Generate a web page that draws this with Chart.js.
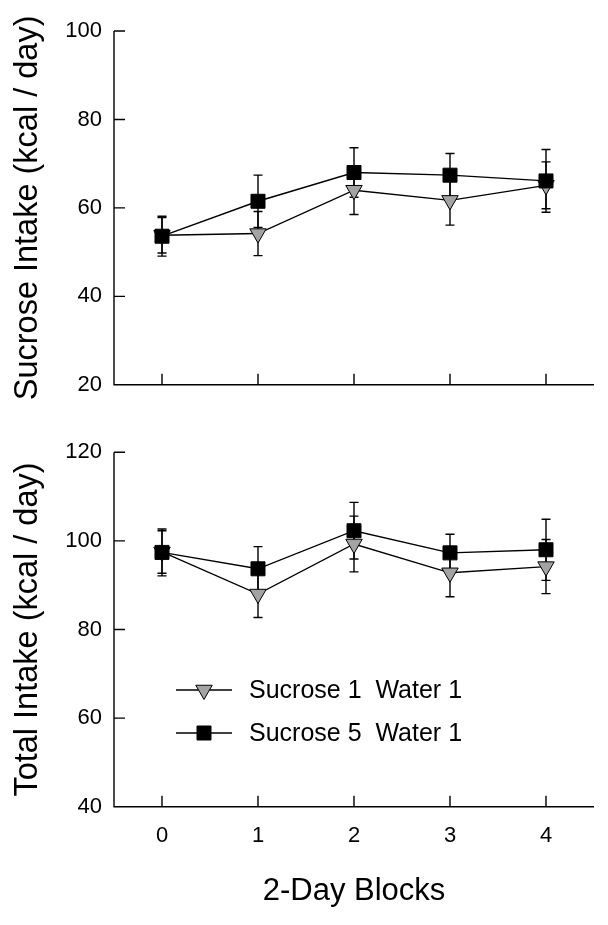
<!DOCTYPE html>
<html>
<head>
<meta charset="utf-8">
<script src="https://cdn.jsdelivr.net/npm/chart.js@4.4.0/dist/chart.umd.min.js"></script>
<style>
  html, body { margin: 0; padding: 0; background: #fff; }
  #wrap { position: relative; width: 608px; height: 925px; }
  canvas { position: absolute; left: 0; }
  #chartTop { top: 0; }
  #chartBottom { top: 410px; }
</style>
</head>
<body>
<div id="wrap">
  <canvas id="chartTop" width="608" height="410"></canvas>
  <canvas id="chartBottom" width="608" height="515"></canvas>
</div>
<script>
// ================== DATA ==================
const blocks = ["0", "1", "2", "3", "4"];
const seriesNames = ["Sucrose 1  Water 1", "Sucrose 5  Water 1"];

// sucrose intake (kcal/day), mean and SEM
const s1SucroseMean = [53.8, 54.2, 64.0, 61.7, 65.1];
const s1SucroseSem  = [4.0, 5.0, 5.5, 5.6, 5.3];
const s5SucroseMean = [53.6, 61.5, 68.0, 67.4, 66.1];
const s5SucroseSem  = [4.5, 5.9, 5.6, 4.9, 7.1];

// total intake (kcal/day), mean and SEM
const s1TotalMean = [97.5, 88.0, 99.3, 92.8, 94.2];
const s1TotalSem  = [4.8, 5.3, 6.3, 5.4, 6.1];
const s5TotalMean = [97.4, 93.7, 102.3, 97.3, 98.0];
const s5TotalSem  = [5.3, 5.0, 6.4, 4.2, 6.9];

const sucroseTicks = [20, 40, 60, 80, 100];
const totalTicks   = [40, 60, 80, 100, 120];

// ================== STYLE ==================
const FONT = "'Liberation Sans', Arial, Helvetica, sans-serif";
const INK = "#000";
const GREY = "#a3a3a3";
const LW = 1.4;

// ================== PLUGINS ==================
const errorBars = {
  id: "errorBars",
  beforeDatasetsDraw(chart) {
    const ctx = chart.ctx, y = chart.scales.y;
    ctx.save();
    ctx.strokeStyle = INK;
    ctx.lineWidth = LW;
    chart.data.datasets.forEach((ds, i) => {
      chart.getDatasetMeta(i).data.forEach((pt, j) => {
        const hi = y.getPixelForValue(ds.data[j] + ds.sem[j]);
        const lo = y.getPixelForValue(ds.data[j] - ds.sem[j]);
        ctx.beginPath();
        ctx.moveTo(pt.x, hi); ctx.lineTo(pt.x, lo);
        ctx.moveTo(pt.x - 4.5, hi); ctx.lineTo(pt.x + 4.5, hi);
        ctx.moveTo(pt.x - 4.5, lo); ctx.lineTo(pt.x + 4.5, lo);
        ctx.stroke();
      });
    });
    ctx.restore();
  }
};

// axis lines + inward tick marks
const axesFrame = {
  id: "axesFrame",
  afterDraw(chart) {
    const { ctx, chartArea: a, scales: { x, y } } = chart;
    ctx.save();
    ctx.strokeStyle = INK;
    ctx.lineWidth = LW;
    ctx.beginPath();
    ctx.moveTo(a.left, a.top); ctx.lineTo(a.left, a.bottom); ctx.lineTo(a.right, a.bottom);
    y.ticks.forEach((t, i) => {
      const py = y.getPixelForTick(i);
      ctx.moveTo(a.left, py); ctx.lineTo(a.left + 11, py);
    });
    x.ticks.forEach((t, i) => {
      const px = x.getPixelForTick(i);
      ctx.moveTo(px, a.bottom); ctx.lineTo(px, a.bottom - 11);
    });
    ctx.stroke();
    ctx.restore();
  }
};

function drawMarker(ctx, kind, cx, cy) {
  ctx.save();
  ctx.lineWidth = 1;
  ctx.strokeStyle = INK;
  ctx.beginPath();
  if (kind === "tri") {
    const r = 9.5;
    for (let k = 0; k < 3; k++) {
      const a = Math.PI + k * 2 * Math.PI / 3;
      const px = cx + Math.sin(a) * r, py = cy - Math.cos(a) * r;
      k ? ctx.lineTo(px, py) : ctx.moveTo(px, py);
    }
    ctx.closePath();
    ctx.fillStyle = GREY;
  } else {
    ctx.rect(cx - 7, cy - 7, 14, 14);
    ctx.fillStyle = INK;
  }
  ctx.fill();
  ctx.stroke();
  ctx.restore();
}

const insetLegend = {
  id: "insetLegend",
  afterDraw(chart) {
    const { ctx, chartArea: a } = chart;
    const rows = [["tri", seriesNames[0], 237.7], ["sq", seriesNames[1], 280.7]];
    ctx.save();
    rows.forEach(([kind, label, dy]) => {
      const y = a.top + dy;
      ctx.strokeStyle = INK;
      ctx.lineWidth = LW;
      ctx.beginPath();
      ctx.moveTo(a.left + 62, y); ctx.lineTo(a.left + 118, y);
      ctx.stroke();
      drawMarker(ctx, kind, a.left + 90, y);
      ctx.fillStyle = INK;
      ctx.font = `25px ${FONT}`;
      ctx.textBaseline = "middle";
      ctx.textAlign = "left";
      ctx.fillText(label, a.left + 135, y + 1);
    });
    ctx.restore();
  }
};

// ================== CHARTS ==================
function datasetsFor(m1, e1, m5, e5) {
  return [
    {
      label: seriesNames[0], data: m1, sem: e1, order: 2,
      borderColor: INK, borderWidth: LW,
      pointStyle: "triangle", rotation: 180, pointRadius: 9.5,
      pointBackgroundColor: GREY, pointBorderColor: INK, pointBorderWidth: 1
    },
    {
      label: seriesNames[1], data: m5, sem: e5, order: 1,
      borderColor: INK, borderWidth: LW,
      pointStyle: "rect", pointRadius: 9.9,
      pointBackgroundColor: INK, pointBorderColor: INK, pointBorderWidth: 1
    }
  ];
}

function mkPanel(id, cfg) {
  return new Chart(document.getElementById(id), {
    type: "line",
    data: { labels: blocks, datasets: datasetsFor(...cfg.series) },
    options: {
      responsive: false,
      animation: false,
      events: [],
      layout: { padding: { top: cfg.padTop, right: 14, left: 0, bottom: 0 } },
      plugins: { legend: { display: false }, tooltip: { enabled: false } },
      scales: {
        x: {
          type: "category",
          offset: true,
          grid: { display: false, drawTicks: false },
          border: { display: false },
          ticks: {
            display: cfg.showX, color: INK, padding: 16.5,
            font: { family: FONT, size: 22 }
          },
          title: {
            display: cfg.showX, text: "2-Day Blocks", color: INK,
            font: { family: FONT, size: 31 }, padding: { top: 0, bottom: 14.5 }
          },
          afterFit: (s) => { s.height = cfg.xHeight; }
        },
        y: {
          min: cfg.ticks[0], max: cfg.ticks[cfg.ticks.length - 1],
          grid: { display: false, drawTicks: false },
          border: { display: false },
          ticks: { color: INK, padding: 12, font: { family: FONT, size: 22 } },
          afterBuildTicks: (s) => { s.ticks = cfg.ticks.map(v => ({ value: v })); },
          title: {
            display: true, text: cfg.yTitle, color: INK,
            font: { family: FONT, size: 32.5 }, padding: { top: 8.5, bottom: 0 }
          },
          afterFit: (s) => { s.width = 114; }
        }
      }
    },
    plugins: [errorBars, axesFrame].concat(cfg.legend ? [insetLegend] : [])
  });
}

mkPanel("chartTop", {
  series: [s1SucroseMean, s1SucroseSem, s5SucroseMean, s5SucroseSem],
  ticks: sucroseTicks,
  yTitle: "Sucrose Intake (kcal / day)",
  padTop: 31, xHeight: 24.3, showX: false, legend: false
});

mkPanel("chartBottom", {
  series: [s1TotalMean, s1TotalSem, s5TotalMean, s5TotalSem],
  ticks: totalTicks,
  yTitle: "Total Intake (kcal / day)",
  padTop: 42.3, xHeight: 118.3, showX: true, legend: true
});
</script>
</body>
</html>
